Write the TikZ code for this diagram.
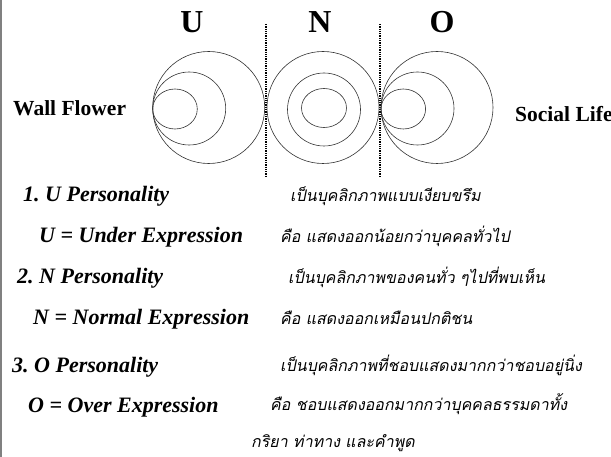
\documentclass[tikz,border=0pt]{standalone}
\usepackage{fontspec}
\setmainfont{Liberation Serif}
\newfontfamily\thaifont[Script=Thai,FakeSlant=0.2]{Loma}
\usepackage{tikz}
\frenchspacing

\tikzset{
  head/.style={anchor=base,font=\bfseries\fontsize{32}{34}\selectfont},
  side/.style={anchor=base west,font=\bfseries\fontsize{21.5}{24}\selectfont},
  entext/.style={anchor=base west,inner sep=0pt,font=\bfseries\itshape\fontsize{22}{24}\selectfont},
  thtext/.style={anchor=base west,inner sep=0pt,font=\thaifont\fontsize{16}{18}\selectfont},
  ring/.style={draw=black!80,line width=0.6pt}
}

\begin{document}
\begin{tikzpicture}[x=1pt,y=-1pt]
  \useasboundingbox (0,0) rectangle (611,457);
  \draw[gray,line width=1.5pt] (1,0) -- (1,457);
  % headings
  \node[head] (hU) at (192,33) {U};
  \node[head] (hN) at (320,33) {N};
  \node[head] (hO) at (442,33) {O};
  \node[side,inner sep=0pt] (wall) at (13,116) {Wall Flower};
  \node[side,inner sep=0pt] (social) at (515,121.5) {Social Life};
  % dividers
  \draw[densely dotted,line width=1.3pt] (266,24) -- (266,178);
  \draw[densely dotted,line width=1.3pt] (380,24) -- (380,178);
  % U and O rings, all touching on the left
  \foreach \dx in {0,228.3} {
    \begin{scope}[xshift=\dx]
      \draw[ring] (208.7,107.5) circle [radius=56pt];
      \draw[ring] (189.2,108.5) circle [radius=36.5pt];
      \draw[ring] (175,109) ellipse [x radius=22.3pt,y radius=20pt];
    \end{scope}
  }
  % N rings
  \draw[ring] (323,107.5) circle [radius=56pt];
  \draw[ring] (324,109.5) circle [radius=36.5pt];
  \draw[ring] (324,108) ellipse [x radius=22.5pt,y radius=19.5pt];
  % text rows
  \node[entext] (pU) at (23,201.5) {1. U Personality};
  \node[thtext] (tU) at (290,201.5) {เป็นบุคลิกภาพแบบเงียบขรึม};
  \node[entext] (eU) at (39,243) {U = Under Expression};
  \node[thtext] (dU) at (280,243) {คือ แสดงออกน้อยกว่าบุคคลทั่วไป};
  \node[entext] (pN) at (17,283.5) {2. N Personality};
  \node[thtext] (tN) at (288,284) {เป็นบุคลิกภาพของคนทั่ว ๆไปที่พบเห็น};
  \node[entext] (eN) at (33,325) {N = Normal Expression};
  \node[thtext] (dN) at (280,324) {คือ แสดงออกเหมือนปกติชน};
  \node[entext] (pO) at (12,373) {3. O Personality};
  \node[thtext] (tO) at (280,371) {เป็นบุคลิกภาพที่ชอบแสดงมากกว่าชอบอยู่นิ่ง};
  \node[entext] (eO) at (28,412.5) {O = Over Expression};
  \node[thtext] (dO) at (270,410) {คือ ชอบแสดงออกมากกว่าบุคคลธรรมดาทั้ง};
  \node[thtext] (dO2) at (251,447) {กริยา ท่าทาง และคำพูด};
\end{tikzpicture}
\end{document}
